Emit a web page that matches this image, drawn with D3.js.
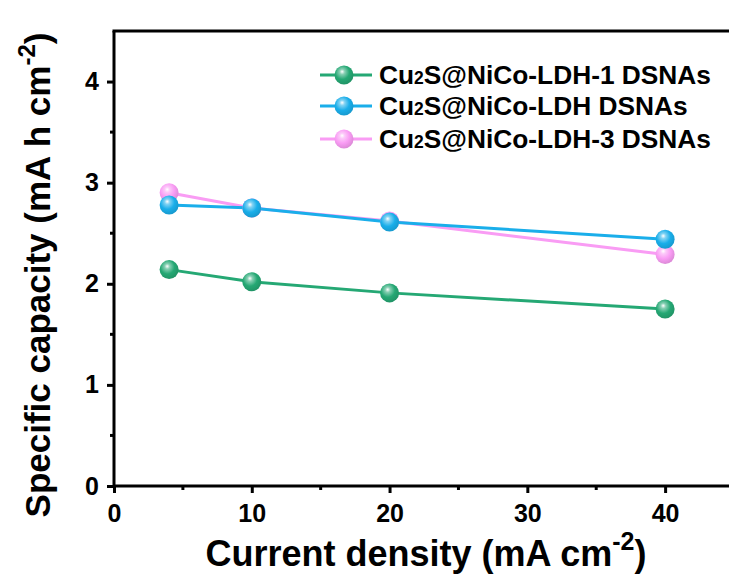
<!DOCTYPE html>
<html>
<head>
<meta charset="utf-8">
<script src="https://cdn.jsdelivr.net/npm/d3@7/dist/d3.min.js"></script>
<style>
  html, body { margin: 0; padding: 0; background: #fff; }
  svg { display: block; font-family: "Liberation Sans", Arial, sans-serif; }
</style>
</head>
<body>
<svg id="chart" width="729" height="574"></svg>
<script>
// Current density (mA cm^-2)
const currentDensity = [4, 10, 20, 40];
// Specific capacity (mA h cm^-2) for each sample
const ldh1 = [2.14, 2.02, 1.91, 1.75];
const ldh2 = [2.78, 2.75, 2.61, 2.44];
const ldh3 = [2.90, 2.75, 2.62, 2.29];
const seriesNames = ["Cu2S@NiCo-LDH-1 DSNAs", "Cu2S@NiCo-LDH DSNAs", "Cu2S@NiCo-LDH-3 DSNAs"];
const seriesColors = ["#25a874", "#1aaeea", "#f99cf4"];
const xTicks = [0, 10, 20, 30, 40];
const yTicks = [0, 1, 2, 3, 4];

const svg = d3.select("#chart");
const m = { left: 114, top: 31, right: 734, bottom: 486 };

const x = d3.scaleLinear().domain([0, 45]).range([m.left, m.right]);
const y = d3.scaleLinear().domain([0, 4.5]).range([m.bottom, m.top]);

// sphere-like marker gradients
const defs = svg.append("defs");
seriesColors.forEach((c, i) => {
  const g = defs.append("radialGradient").attr("id", "ball" + i)
    .attr("cx", "0.42").attr("cy", "0.38").attr("r", "0.62").attr("fx", "0.4").attr("fy", "0.32");
  g.append("stop").attr("offset", "0").attr("stop-color", "#ffffff");
  g.append("stop").attr("offset", "0.22").attr("stop-color", d3.interpolateRgb(c, "#fff")(0.45));
  g.append("stop").attr("offset", "0.6").attr("stop-color", c);
  g.append("stop").attr("offset", "1").attr("stop-color", d3.color(c).darker(0.35));
});

// axes
const fontTick = "bold 25px 'Liberation Sans', Arial, sans-serif";
const xAxis = d3.axisBottom(x).tickValues(xTicks).tickSize(7).tickPadding(11).tickFormat(d3.format("d"));
const yAxis = d3.axisLeft(y).tickValues(yTicks).tickSize(7).tickPadding(8).tickFormat(d3.format("d"));

const gx = svg.append("g").attr("transform", `translate(0,${m.bottom})`).call(xAxis);
const gy = svg.append("g").attr("transform", `translate(${m.left},0)`).call(yAxis);

[gx, gy].forEach(g => {
  g.select(".domain").attr("stroke", "#000").attr("stroke-width", 3);
  g.selectAll(".tick line").attr("stroke", "#000").attr("stroke-width", 3);
  g.selectAll(".tick text").style("font", fontTick).attr("fill", "#000");
});
gy.select(".domain").attr("d", `M0,${m.top}V${m.bottom}`);
gx.select(".domain").attr("d", `M${m.left},0H${m.right}`);

// minor ticks
svg.append("g").selectAll("line").data([5, 15, 25, 35]).join("line")
  .attr("x1", d => x(d)).attr("x2", d => x(d))
  .attr("y1", m.bottom).attr("y2", m.bottom + 4)
  .attr("stroke", "#000").attr("stroke-width", 3);
svg.append("g").selectAll("line").data([0.5, 1.5, 2.5, 3.5]).join("line")
  .attr("x1", m.left).attr("x2", m.left - 4)
  .attr("y1", d => y(d)).attr("y2", d => y(d))
  .attr("stroke", "#000").attr("stroke-width", 3);

// top frame line
svg.append("line").attr("x1", m.left - 1.5).attr("x2", m.right)
  .attr("y1", m.top).attr("y2", m.top).attr("stroke", "#000").attr("stroke-width", 3);

// axis titles
const xt = svg.append("text").attr("x", 426).attr("y", 566).attr("text-anchor", "middle")
  .style("font", "bold 36px 'Liberation Sans', Arial, sans-serif");
xt.append("tspan").text("Current density (mA cm");
xt.append("tspan").attr("dy", -16).style("font-size", "25px").text("-2");
xt.append("tspan").attr("dy", 16).text(")");

const yt = svg.append("text").attr("transform", "translate(50,275) rotate(-90)").attr("text-anchor", "middle")
  .style("font", "bold 35px 'Liberation Sans', Arial, sans-serif");
yt.append("tspan").text("Specific capacity (mA h cm");
yt.append("tspan").attr("dy", -15).style("font-size", "24px").text("-2");
yt.append("tspan").attr("dy", 15).text(")");

// series
const allSeries = [ldh1, ldh2, ldh3];
const line = d3.line().x((d, i) => x(currentDensity[i])).y(d => y(d));
const order = [2, 1, 0];
order.forEach(k => {
  const vals = allSeries[k];
  svg.append("path").datum(vals).attr("d", line)
    .attr("fill", "none").attr("stroke", seriesColors[k]).attr("stroke-width", 3);
});
order.forEach(k => {
  const vals = allSeries[k];
  svg.append("g").selectAll("circle").data(vals).join("circle")
    .attr("cx", (d, i) => x(currentDensity[i])).attr("cy", d => y(d)).attr("r", 9.5)
    .attr("fill", `url(#ball${k})`);
});

// legend
const legendY = [75, 106, 139];
seriesNames.forEach((name, k) => {
  const gy0 = legendY[k];
  svg.append("line").attr("x1", 320).attr("x2", 372).attr("y1", gy0).attr("y2", gy0)
    .attr("stroke", seriesColors[k]).attr("stroke-width", 3);
  svg.append("circle").attr("cx", 344).attr("cy", gy0).attr("r", 9.5).attr("fill", `url(#ball${k})`);
  const t = svg.append("text").attr("x", 379).attr("y", gy0 + 9)
    .style("font", "bold 26.3px 'Liberation Sans', Arial, sans-serif");
  const parts = name.split("2");
  t.append("tspan").text(parts[0]);
  t.append("tspan").style("font-size", "17.5px").text("2");
  t.append("tspan").text(parts.slice(1).join("2"));
});
</script>
</body>
</html>
